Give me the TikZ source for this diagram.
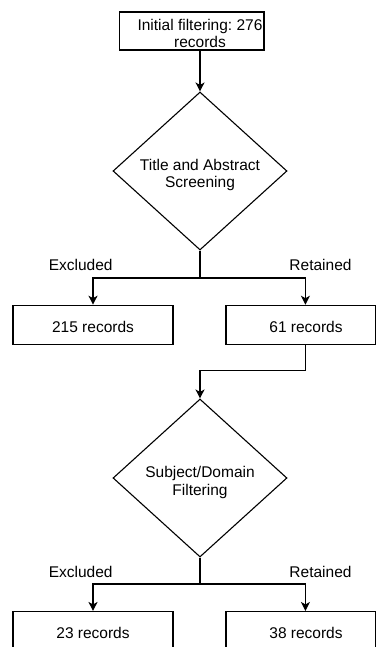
\documentclass[tikz,border=0pt]{standalone}
\usepackage{fontspec}
\setmainfont{Liberation Sans}
\usetikzlibrary{shapes.geometric,arrows.meta,calc}
\frenchspacing

\begin{document}
\begin{tikzpicture}[x=1pt,y=-1pt,
    every node/.style={font=\fontsize{15.5}{17.8}\selectfont, text=black},
    line/.style={draw=black, line width=1.1pt},
    arrow/.style={line, -{Stealth[length=9pt,width=9pt,inset=2.5pt]}},
    box/.style={line, rectangle, inner sep=0pt, minimum height=39pt,
                text height=15.4pt, text depth=0pt},
    decision/.style={line, diamond, inner sep=0pt,
                     minimum width=174pt, minimum height=158pt},
    caption/.style={inner sep=0pt, align=center},
    branch/.style={inner sep=0pt, anchor=base}]

  \useasboundingbox (0,0) rectangle (376,647);
  \clip (0,0) rectangle (376,647);

  % start
  \node[box, minimum width=144.5pt, minimum height=38pt] (init) at (191.75,31) {};
  \node[caption] (initT) at (200,33.4) {Initial filtering: 276\\records};

  % first decision
  \node[decision] (d1) at (200,171) {};
  \node[caption] (d1T) at (200,175) {Title and Abstract\\Screening};
  \coordinate (j1) at (200,278);

  \node[box, minimum width=160pt] (r215) at (93,324.75) {215 records};
  \node[box, minimum width=149.5pt] (r61) at (300.75,324.75) {\hspace*{10.5pt}61 records};

  \node[branch] (ex1) at (80.7,270) {Excluded};
  \node[branch] (re1) at (320.5,270) {Retained};

  % second decision
  \node[decision] (d2) at (200,478) {};
  \node[caption] (d2T) at (200,482.3) {Subject/Domain\\Filtering};
  \coordinate (j2) at (200,584);

  \node[box, minimum width=160pt] (r23) at (93,631) {23 records};
  \node[box, minimum width=149.5pt] (r38) at (300.75,631) {\hspace*{10.5pt}38 records};

  \node[branch] (ex2) at (80.7,577) {Excluded};
  \node[branch] (re2) at (320.5,577) {Retained};

  % connectors
  \draw[arrow] (init.south -| d1.north) -- (d1.north);
  \draw[line] (d1.south) -- (j1);
  \draw[arrow] (j1) -| (r215.north);
  \draw[arrow] (j1) -| ($(r61.north west)+(80,0)$);

  \draw[arrow] ($(r61.south west)+(80,0)$) -- ++(0,26) -| (d2.north);

  \draw[line] (d2.south) -- (j2);
  \draw[arrow] (j2) -| (r23.north);
  \draw[arrow] (j2) -| ($(r38.north west)+(80,0)$);
\end{tikzpicture}
\end{document}
